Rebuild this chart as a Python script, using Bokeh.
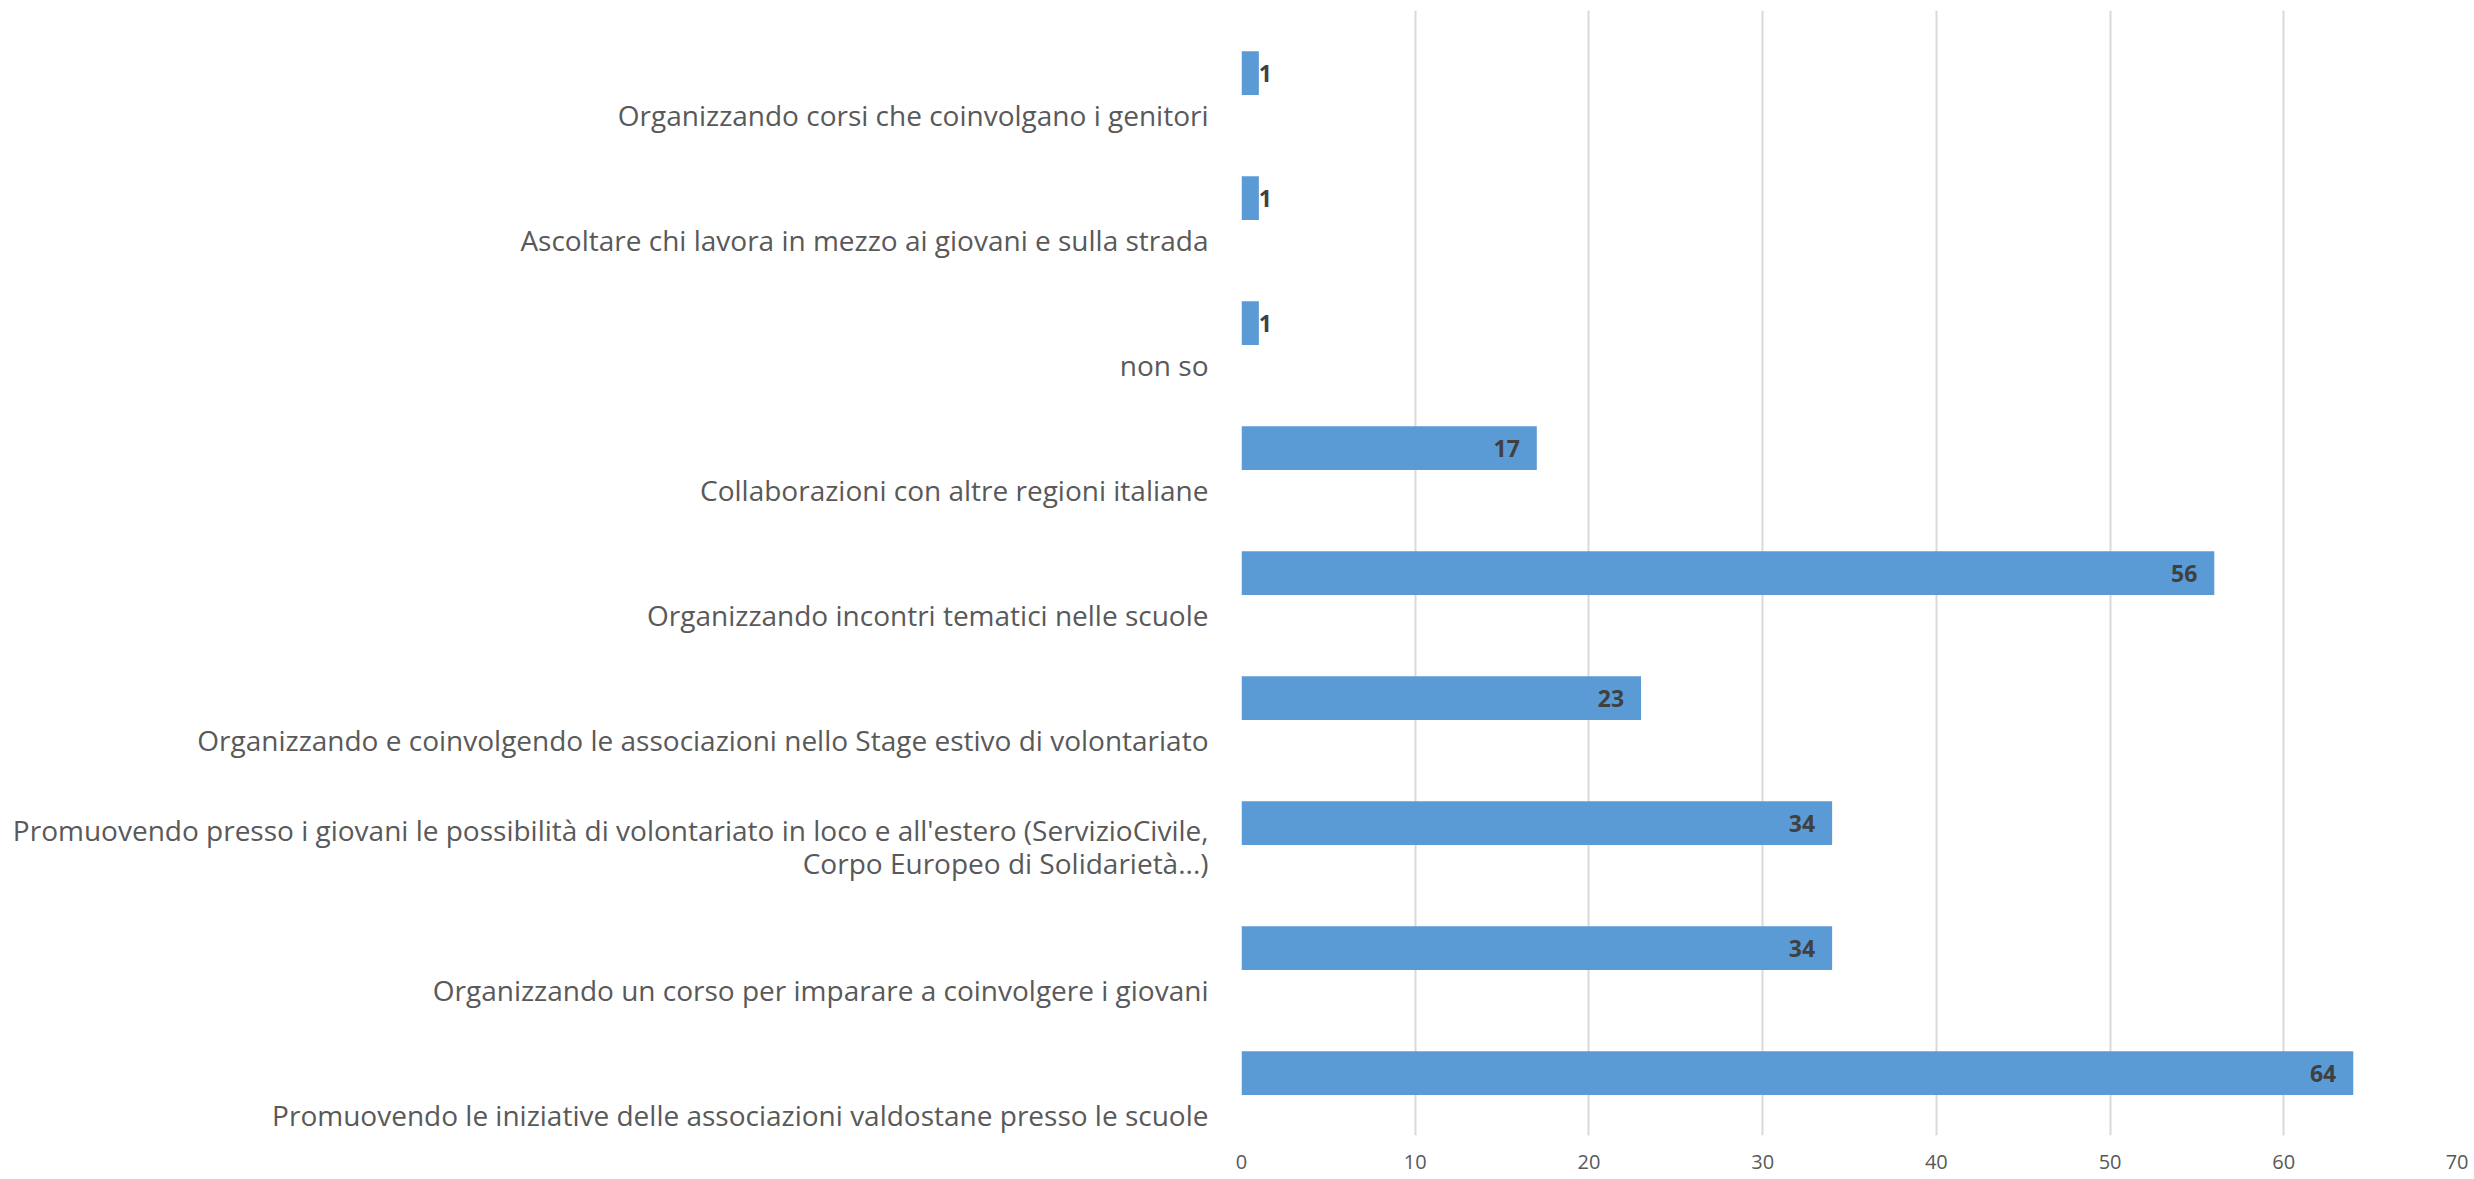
from bokeh.plotting import figure
from bokeh.models import ColumnDataSource, LabelSet, FixedTicker, Range1d
from bokeh.core.properties import value
from bokeh.embed import file_html
from bokeh.resources import INLINE

# categories listed from bottom to top
categories = [
    "Promuovendo le iniziative delle associazioni valdostane presso le scuole",
    "Organizzando un corso per imparare a coinvolgere i giovani",
    "Promuovendo presso i giovani le possibilità di volontariato in loco e all'estero (ServizioCivile,\nCorpo Europeo di Solidarietà...)",
    "Organizzando e coinvolgendo le associazioni nello Stage estivo di volontariato",
    "Organizzando incontri tematici nelle scuole",
    "Collaborazioni con altre regioni italiane",
    "non so",
    "Ascoltare chi lavora in mezzo ai giovani e sulla strada",
    "Organizzando corsi che coinvolgano i genitori",
]
values = [64, 34, 34, 23, 56, 17, 1, 1, 1]
x_ticks = [0, 10, 20, 30, 40, 50, 60, 70]

pos = list(range(len(categories)))
n_lines = [c.count("\n") + 1 for c in categories]

# category label positions (Excel draws them below the bar centre)
label_pos = [pp - (0.336 if n == 1 else 0.19) for pp, n in zip(pos, n_lines)]
overrides = {lp: c for lp, c in zip(label_pos, categories)}

src = ColumnDataSource(dict(y=pos, v=values))

inside = [i for i, v in enumerate(values) if v >= 10]
outside = [i for i, v in enumerate(values) if v < 10]
src_in = ColumnDataSource(dict(y=[pos[i] for i in inside], v=[values[i] for i in inside],
                               lbl=[str(values[i]) for i in inside]))
src_out = ColumnDataSource(dict(y=[pos[i] for i in outside], v=[values[i] for i in outside],
                                lbl=[str(values[i]) for i in outside]))

W, H = 2468, 1179
p = figure(width=W, height=H, output_backend="svg", toolbar_location=None,
           x_range=Range1d(0, 70), y_range=Range1d(-0.5, len(categories) - 0.5),
           min_border_left=1241, min_border_right=11, min_border_top=10, min_border_bottom=44)
p.outline_line_color = None
p.background_fill_color = "white"
p.border_fill_color = "white"

p.hbar(y="y", right="v", left=0, height=0.35, source=src, color="#5B9BD5", line_color=None)

p.ygrid.grid_line_color = None
p.yaxis.ticker = FixedTicker(ticks=label_pos)
p.yaxis.major_label_overrides = overrides
p.yaxis.axis_line_color = None
p.yaxis.major_tick_line_color = None
p.yaxis.minor_tick_line_color = None
p.yaxis.major_tick_out = 0
p.yaxis.major_tick_in = 0
p.yaxis.major_label_standoff = 33
p.yaxis.major_label_text_font = "Open Sans"
p.yaxis.major_label_text_font_size = "28px"
p.yaxis.major_label_text_color = "#595959"
p.yaxis.major_label_text_line_height = 0.87

p.xgrid.grid_line_color = "#D9D9D9"
p.xgrid.grid_line_width = 2
p.xaxis.ticker = FixedTicker(ticks=x_ticks)
p.xaxis.axis_line_color = None
p.xaxis.major_tick_line_color = None
p.xaxis.minor_tick_line_color = None
p.xaxis.major_tick_out = 0
p.xaxis.major_tick_in = 0
p.xaxis.major_label_standoff = 19
p.xaxis.major_label_text_font = "Open Sans"
p.xaxis.major_label_text_font_size = "20px"
p.xaxis.major_label_text_color = "#595959"

in_labels = LabelSet(x="v", y="y", text="lbl", source=src_in, x_offset=-17,
                     text_align="right", text_baseline="middle", text_font=value("Open Sans"),
                     text_font_size=value("23px"), text_font_style="bold", text_color="#404040")
out_labels = LabelSet(x="v", y="y", text="lbl", source=src_out, x_offset=0,
                      text_align="left", text_baseline="middle", text_font=value("Open Sans"),
                      text_font_size=value("23px"), text_font_style="bold", text_color="#404040")
p.add_layout(in_labels)
p.add_layout(out_labels)

open("out.html", "w").write(file_html(p, INLINE))
